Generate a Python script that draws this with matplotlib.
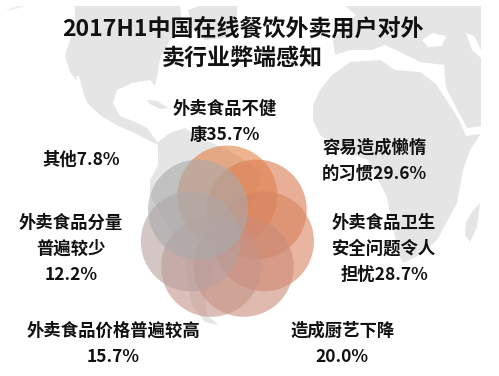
import numpy as np
import matplotlib
matplotlib.use("Agg")
import matplotlib.pyplot as plt
from matplotlib.patches import Circle, Polygon

plt.rcParams['font.family'] = ['Noto Sans CJK SC', 'DejaVu Sans']

title_lines = ["2017H1中国在线餐饮外卖用户对外", "卖行业弊端感知"]

# clockwise from the top circle
categories = [
    "外卖食品不健\n康",
    "容易造成懒惰\n的习惯",
    "外卖食品卫生\n安全问题令人\n担忧",
    "造成厨艺下降\n",
    "外卖食品价格普遍较高\n",
    "外卖食品分量\n普遍较少\n",
    "其他",
]
values = [35.7, 29.6, 28.7, 20.0, 15.7, 12.2, 7.8]
colors = ["#E48244", "#DA7B50", "#D78461", "#CB8C78", "#C69489", "#B6A09E", "#A9AAAC"]

# centre of the first line of each label, in pixels
label_x = [225, 374.5, 384, 342, 113, 71, 81]
label_y = [109, 148, 223, 331, 331, 223, 160]

# background world map, in pixels
north_america = [(75, 6), (180, 6), (182, 22), (170, 40), (160, 58), (158, 72), (155, 86), (150, 80),
                 (132, 83), (117, 90), (113, 103), (120, 116), (135, 122), (147, 128), (160, 146),
                 (150, 141), (135, 133), (118, 126), (100, 115), (88, 104), (78, 82), (70, 72),
                 (65, 56), (68, 46), (75, 25)]
cuba = [(147, 100), (157, 101), (168, 108), (160, 109), (150, 104)]
baja = [(76, 76), (79, 76), (85, 99), (82, 99)]
greenland = [(188, 10), (200, 6), (237, 6), (237, 24), (225, 38), (205, 40), (192, 28)]
south_america = [(158, 142), (170, 133), (185, 128), (200, 138), (228, 150), (262, 172), (255, 195),
                 (240, 225), (225, 245), (215, 265), (205, 295), (207, 315), (218, 325), (205, 322),
                 (192, 305), (187, 280), (185, 255), (170, 230), (150, 195), (150, 180), (158, 165)]
africa = [(313, 105), (320, 90), (332, 75), (350, 62), (380, 60), (395, 70), (420, 72), (436, 84),
          (458, 118), (466, 136), (481, 134), (470, 150), (463, 170), (457, 203), (437, 240),
          (420, 255), (403, 263), (400, 257), (392, 225), (387, 197), (368, 160),
          (340, 150), (320, 135), (313, 120)]
eurasia = [(345, 6), (481, 6), (481, 126), (467, 128), (446, 88), (444, 65), (420, 62), (400, 52),
           (385, 45), (372, 50), (350, 50), (335, 55), (333, 40), (345, 25), (356, 15)]
black_sea = [(422, 40), (432, 33), (446, 36), (442, 46), (428, 47)]
caspian = [(466, 33), (474, 36), (481, 50), (481, 58), (472, 50)]
madagascar = [(480, 203), (477, 227), (470, 242), (465, 235), (466, 222), (472, 212)]
sliver = [(5, 10), (18, 6), (25, 6), (12, 10)]

fig = plt.figure(figsize=(4.99, 3.76), dpi=100)
ax = fig.add_axes([0, 0, 1, 1])
ax.set_xlim(0, 499)
ax.set_ylim(376, 0)
ax.axis("off")

for land in [north_america, cuba, greenland, south_america, africa, eurasia, madagascar]:
    ax.add_patch(Polygon(land, closed=True, fc="#e5e5e5", ec="none", zorder=1))
for water in [black_sea, caspian, baja]:
    ax.add_patch(Polygon(water, closed=True, fc="white", ec="none", zorder=1))
ax.add_patch(Polygon(sliver, closed=True, fc="#eeeeee", ec="none", zorder=1))

# seven equal circles on a ring
n = len(values)
for i in range(n):
    angle = np.pi / 2 - i * 2 * np.pi / n
    cx = 227.4 + 37.5 * np.cos(angle)
    cy = 233 - 37.5 * np.sin(angle)
    ax.add_patch(Circle((cx, cy), 50, fc=colors[i], ec="none", alpha=0.6, zorder=2))

for i, line in enumerate(title_lines):
    ax.text(242.5, 29 + i * 29, line, fontsize=16.6, fontweight="bold", color="#111111",
            ha="center", va="center", zorder=3)

for cat, val, x, y in zip(categories, values, label_x, label_y):
    text = f"{cat}{val:.1f}%"
    for i, line in enumerate(text.split("\n")):
        ax.text(x, y + i * 26, line, fontsize=12.5, fontweight="bold", color="#111111",
                ha="center", va="center", zorder=3)

fig.savefig("out.png", dpi=100)
plt.close(fig)
